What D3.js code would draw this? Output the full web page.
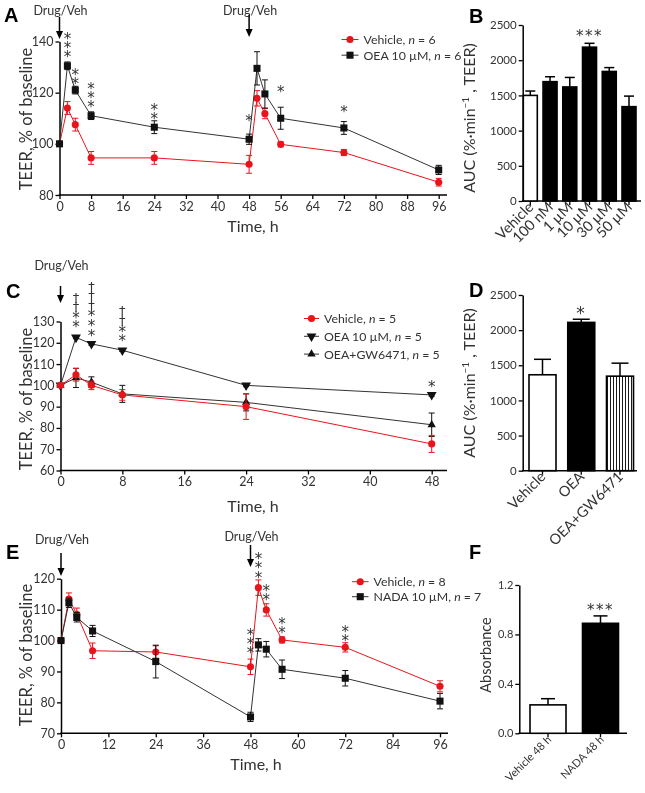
<!DOCTYPE html>
<html><head><meta charset="utf-8">
<script src="https://cdn.jsdelivr.net/npm/d3@7"></script>
<style>body{margin:0;background:#fff} svg{will-change:transform} svg text{font-family:Lato,'Open Sans',sans-serif}</style>
</head><body><script>
// ---------- DATA ----------
// Panel A
const timeA=[0,2,4,8,24,48,50,52,56,72,96];
const vehA=[100,114,107.5,94.5,94.5,92,117.8,111.8,99.8,96.6,85];
const vehAErr=[0,2.5,2.5,2.5,2.5,3.5,3,2,1,1.2,1.5];
const oeaA=[100,130.5,121,111,106.5,101.8,129.5,119.5,110,106.2,89.8];
const oeaAErr=[0,1.5,1.5,1.5,2.5,2,6.5,5.5,4.3,2.5,1.8];
const sigATime=[2,4,8,24,48,56,72];
const sigAMarks=["***","**","***","**","*","*","*"];
const sigALevel=[135.6,125,116,111.4,110.7,121.8,114];
const doseTimesA=[0,48];
const xTicksA=[0,8,16,24,32,40,48,56,64,72,80,88,96];
const yTicksA=[80,100,120,140];
// Panel B
const catsB=["Vehicle","100 nM","1 µM","10 µM","30 µM","50 µM"];
const aucB=[1500,1695,1620,2185,1840,1340];
const aucBErr=[62,70,135,55,55,150];
const sigB=["","","","***","",""];
const yTicksB=[0,500,1000,1500,2000,2500];
// Panel C
const timeC=[0,2,4,8,24,48];
const vehC=[100,105,100,95.5,90,72.5];
const vehCErr=[0,3,2,2.5,6,4];
const oeaC=[100,122.5,119.5,116.5,100,95.5];
const oeaCErr=[0,0.6,0.6,0.6,0.6,0.6];
const gwC=[100,103.5,101.5,96,92,81.5];
const gwCErr=[0,4.5,2.5,4,4,5.5];
const sigCTime=[2,4,8,48];
const sigCMarks=["††**","†††***","††**","*"];
const sigCLevel=[129.2,125.3,122.7,101.2];
const doseTimesC=[0];
const xTicksC=[0,8,16,24,32,40,48];
const yTicksC=[60,70,80,90,100,110,120,130];
// Panel D
const catsD=["Vehicle","OEA","OEA+GW6471"];
const aucD=[1365,2110,1345];
const aucDErr=[220,45,185];
const sigD=["","*",""];
const yTicksD=[0,500,1000,1500,2000,2500];
// Panel E
const timeE=[0,2,4,8,24,48,50,52,56,72,96];
const vehE=[100,113.4,108.5,96.7,96.3,91.5,117.1,109.9,100.2,97.8,85.2];
const vehEErr=[0,2,2,2.5,2,2.5,2.5,2,1,1.5,1.8];
const nadaE=[100,112.2,107.5,103.1,93.2,75.3,98.6,97.2,90.7,87.8,80.4];
const nadaEErr=[0,1.5,1.5,1.8,5.3,1.5,2,2.5,3,2.5,2.5];
const sigETime=[48,50,52,56,72];
const sigEMarks=["***","***","**","**","**"];
const sigELevel=[97.3,121.7,114.4,103.7,101.1];
const doseTimesE=[0,48];
const xTicksE=[0,12,24,36,48,60,72,84,96];
const yTicksE=[70,80,90,100,110,120];
// Panel F
const catsF=["Vehicle 48 h","NADA 48 h"];
const absF=[0.23,0.89];
const absFErr=[0.05,0.06];
const sigF=["","***"];
const yTicksF=[0,0.4,0.8,1.2];

// ---------- DRAWING ----------
const RED="#e8141c", BLK="#111", TXT="#333";
const SYMFONT="'DejaVu Sans', sans-serif";
const svg=d3.select("body").append("svg").attr("width",645).attr("height",793);
const defs=svg.append("defs");
const pat=defs.append("pattern").attr("id","stripes").attr("patternUnits","userSpaceOnUse").attr("width",3).attr("height",10);
pat.append("rect").attr("width",3).attr("height",10).attr("fill","#fff");
pat.append("line").attr("x1",1.5).attr("x2",1.5).attr("y1",0).attr("y2",10).attr("stroke","#000").attr("stroke-width",0.9);

const symMap={circle:[d3.symbolCircle,40],square:[d3.symbolSquare,50],down:[d3.symbolTriangle,42],up:[d3.symbolTriangle,30]};
function marker(g,type,x,y,color){
  const [s,size]=symMap[type];
  g.append("path").attr("d",d3.symbol(s,size)())
   .attr("transform",`translate(${x},${y})`+(type==="down"?" rotate(180)":""))
   .attr("fill",color);
}
function styleAxis(a,fs){
  a.selectAll(".domain").attr("stroke","#000").attr("stroke-width",1.5);
  a.selectAll(".tick line").attr("stroke","#000").attr("stroke-width",1.3);
  a.selectAll(".tick text").attr("fill",TXT).style("font-size",fs+"px");
}
function symOff(c,fs){return c==="*"?0.56*fs:0.3*fs;}
function symText(g,x,cy,s,fs,ls){
  g.append("text").attr("x",x).attr("y",cy+symOff(s[0],fs)).attr("text-anchor","middle")
    .style("font-family",SYMFONT).style("font-size",fs+"px").style("letter-spacing",(ls||0)+"px")
    .attr("fill",TXT).text(s);
}
// vertical column of identical marks as one vertical text
function column(g,x,cyMid,s,spacing,fs){
  const t=g.append("text").attr("x",x).attr("y",cyMid).attr("text-anchor","middle")
    .style("writing-mode","vertical-rl").style("text-orientation","upright")
    .style("font-family",SYMFONT).style("font-size",fs+"px").attr("fill",TXT).text(s);
  const adv=t.node().getComputedTextLength()/s.length;
  t.style("letter-spacing",(spacing-adv)+"px");
  return t;
}
function stackMarks(g,x,yBottom,marks,spacing,fs){
  const ch=[...marks]; const n=ch.length;
  let i=0;
  while(i<n){
    let j=i; while(j<n && ch[j]===ch[i]) j++;
    const run=ch.slice(i,j).join("");
    const cTop=yBottom-(n-1-i)*spacing, cBot=yBottom-(n-1-(j-1))*spacing;
    column(g,x,(cTop+cBot)/2,run,spacing,ch[i]==="*"?fs:fs-2);
    i=j;
  }
}
function legendText(t,label,n){
  t.append("tspan").text(label+", ");
  t.append("tspan").style("font-style","italic").text("n");
  t.append("tspan").text(" = "+n);
}
function panelLetter(x,y,l){
  svg.append("text").attr("x",x).attr("y",y).style("font-family","Arial, 'Liberation Sans', sans-serif")
   .style("font-weight","bold").style("font-size","20px").attr("fill","#000").text(l);
}
function yTitle(x,cy,fs,build){
  const t=svg.append("text").attr("transform",`translate(${x},${cy}) rotate(-90)`).attr("text-anchor","middle")
    .style("font-size",fs+"px").attr("fill",TXT);
  build(t);
}
function arrow(g,X,y1,y2){
  g.append("line").attr("x1",X).attr("x2",X).attr("y1",y1).attr("y2",y2-7).attr("stroke","#000").attr("stroke-width",1.5);
  g.append("path").attr("d",`M${X-3.5},${y2-8}L${X+3.5},${y2-8}L${X},${y2}Z`).attr("fill","#000");
}

function linePanel(o){
  const g=svg.append("g");
  const x=d3.scaleLinear().domain(o.xDomain).range(o.xRange);
  const y=d3.scaleLinear().domain(o.yDomain).range(o.yRange);
  const ya=g.append("g").attr("transform",`translate(${o.xRange[0]},0)`)
    .call(d3.axisLeft(y).tickValues(o.yTicks).tickSize(4).tickSizeOuter(0).tickPadding(2));
  styleAxis(ya,12.5);
  const xa=g.append("g").attr("transform",`translate(0,${o.yRange[0]})`)
    .call(d3.axisBottom(x).tickValues(o.xTicks).tickSize(4).tickSizeOuter(0).tickPadding(3));
  styleAxis(xa,12.5);
  xa.select(".domain").remove();
  g.append("line").attr("x1",o.xRange[0]-0.75).attr("x2",o.xEnd).attr("y1",o.yRange[0]).attr("y2",o.yRange[0])
    .attr("stroke","#000").attr("stroke-width",1.5);
  o.series.forEach(s=>{
    const pts=o.times.map((t,i)=>({t,v:s.vals[i],e:s.errs[i]}));
    g.append("path").datum(pts).attr("d",d3.line().x(d=>x(d.t)).y(d=>y(d.v)))
      .attr("fill","none").attr("stroke",s.lineColor).attr("stroke-width",1);
    pts.forEach(d=>{
      if(d.e>0){
        const X=x(d.t), y1=y(d.v-d.e), y2=y(d.v+d.e);
        g.append("line").attr("x1",X).attr("x2",X).attr("y1",y1).attr("y2",y2).attr("stroke",s.color).attr("stroke-width",1);
        [y1,y2].forEach(yy=>g.append("line").attr("x1",X-3).attr("x2",X+3).attr("y1",yy).attr("y2",yy).attr("stroke",s.color).attr("stroke-width",1));
      }
    });
    pts.forEach(d=>marker(g,s.marker,x(d.t),y(d.v),s.color));
  });
  o.sigTimes.forEach((t,i)=>stackMarks(g,x(t),y(o.sigLevels[i]),o.sigMarks[i],o.sigSpacing,15));
  o.doses.forEach((t,i)=>{
    const X=x(t);
    g.append("text").attr("x",X+1).attr("y",o.doseTextY[i]).attr("text-anchor","middle").style("font-size","12.5px").attr("fill",TXT).text("Drug/Veh");
    arrow(g,X,o.doseArrow[i][0],o.doseArrow[i][1]);
  });
  o.legend.forEach((l,i)=>{
    const ly=o.legendY+i*o.legendStep;
    g.append("line").attr("x1",o.legendX[0]).attr("x2",o.legendX[1]).attr("y1",ly).attr("y2",ly).attr("stroke",l.lineColor).attr("stroke-width",1);
    marker(g,l.marker,(o.legendX[0]+o.legendX[1])/2,ly,l.color);
    const t=g.append("text").attr("x",o.legendX[1]+5).attr("y",ly+4.5).style("font-size","12.3px").attr("fill",TXT);
    legendText(t,l.label,l.n);
  });
  g.append("text").attr("x",o.timeX).attr("y",o.timeY).attr("text-anchor","middle").style("font-size","16px").attr("fill",TXT).text("Time, h");
  yTitle(o.titleX,o.titleCY,16.5,t=>t.text("TEER, % of baseline"));
}

function barPanel(o){
  const g=svg.append("g");
  const x=d3.scalePoint().domain(o.cats).range(o.centers);
  const y=d3.scaleLinear().domain(o.yDomain).range(o.yRange);
  const ya=g.append("g").attr("transform",`translate(${o.axisX},0)`)
    .call(d3.axisLeft(y).tickValues(o.yTicks).tickSize(4).tickSizeOuter(0).tickPadding(2).tickFormat(o.fmt||(d=>d)));
  styleAxis(ya,o.tickFs);
  const y0=y(0);
  g.append("line").attr("x1",o.axisX-0.75).attr("x2",o.xEnd).attr("y1",y0).attr("y2",y0).attr("stroke","#000").attr("stroke-width",1.5);
  o.cats.forEach((c,i)=>{
    const cx=x(c), v=o.vals[i], e=o.errs[i];
    g.append("line").attr("x1",cx).attr("x2",cx).attr("y1",y0).attr("y2",y0+4).attr("stroke","#000").attr("stroke-width",1.3);
    g.append("line").attr("x1",cx).attr("x2",cx).attr("y1",y(v)).attr("y2",y(v+e)).attr("stroke","#000").attr("stroke-width",1.5);
    g.append("line").attr("x1",cx-o.cap/2).attr("x2",cx+o.cap/2).attr("y1",y(v+e)).attr("y2",y(v+e)).attr("stroke","#000").attr("stroke-width",1.5);
    g.append("rect").attr("x",cx-o.bw/2).attr("y",y(v)).attr("width",o.bw).attr("height",y0-y(v))
      .attr("fill",o.fills[i]).attr("stroke","#000").attr("stroke-width",1.6);
    if(o.sig[i]) symText(g,cx,y(v+e)-o.sigGap,o.sig[i],o.sigFs,1.5);
    g.append("text").attr("transform",`translate(${cx+4},${y0+o.labGap}) rotate(-45)`).attr("text-anchor","end")
      .style("font-size",o.labFs+"px").attr("fill",TXT).text(c);
  });
}

// Panel A
linePanel({
  xDomain:[0,96], xRange:[59.5,438.7], yDomain:[80,140], yRange:[195,41.5], xEnd:447,
  xTicks:xTicksA, yTicks:yTicksA, times:timeA,
  series:[
    {vals:vehA,errs:vehAErr,color:RED,lineColor:RED,marker:"circle"},
    {vals:oeaA,errs:oeaAErr,color:BLK,lineColor:"#333",marker:"square"}],
  sigTimes:sigATime, sigMarks:sigAMarks, sigLevels:sigALevel, sigSpacing:9.3,
  doses:doseTimesA, doseTextY:[15,15], doseArrow:[[17,39],[15,37]],
  legend:[{label:"Vehicle",n:6,color:RED,lineColor:RED,marker:"circle"},
          {label:"OEA 10 µM",n:6,color:BLK,lineColor:"#333",marker:"square"}],
  legendX:[341.5,358.5], legendY:39.5, legendStep:15.7,
  timeX:253, timeY:232, titleX:32, titleCY:119
});
// Panel C
linePanel({
  xDomain:[0,48], xRange:[60.5,431.7], yDomain:[60,130], yRange:[470.5,321.5], xEnd:447,
  xTicks:xTicksC, yTicks:yTicksC, times:timeC,
  series:[
    {vals:oeaC,errs:oeaCErr,color:BLK,lineColor:"#333",marker:"down"},
    {vals:gwC,errs:gwCErr,color:BLK,lineColor:"#333",marker:"up"},
    {vals:vehC,errs:vehCErr,color:RED,lineColor:RED,marker:"circle"}],
  sigTimes:sigCTime, sigMarks:sigCMarks, sigLevels:sigCLevel, sigSpacing:9.6,
  doses:doseTimesC, doseTextY:[270], doseArrow:[[286,303]],
  legend:[{label:"Vehicle",n:5,color:RED,lineColor:RED,marker:"circle"},
          {label:"OEA 10 µM",n:5,color:BLK,lineColor:"#333",marker:"down"},
          {label:"OEA+GW6471",n:5,color:BLK,lineColor:"#333",marker:"up"}],
  legendX:[304,319], legendY:318.5, legendStep:17.8,
  timeX:253, timeY:512, titleX:32, titleCY:399
});
// Panel E
linePanel({
  xDomain:[0,96], xRange:[61,440], yDomain:[70,120], yRange:[733.3,578.7], xEnd:448,
  xTicks:xTicksE, yTicks:yTicksE, times:timeE,
  series:[
    {vals:vehE,errs:vehEErr,color:RED,lineColor:RED,marker:"circle"},
    {vals:nadaE,errs:nadaEErr,color:BLK,lineColor:"#333",marker:"square"}],
  sigTimes:sigETime, sigMarks:sigEMarks, sigLevels:sigELevel, sigSpacing:9.3,
  doses:doseTimesE, doseTextY:[544,541], doseArrow:[[553,576],[545,567]],
  legend:[{label:"Vehicle",n:8,color:RED,lineColor:RED,marker:"circle"},
          {label:"NADA 10 µM",n:7,color:BLK,lineColor:"#333",marker:"square"}],
  legendX:[352,368.5], legendY:581.7, legendStep:15,
  timeX:256, timeY:770, titleX:32, titleCY:655
});
// Panel B
barPanel({cats:catsB, vals:aucB, errs:aucBErr, fills:["#fff","#000","#000","#000","#000","#000"], sig:sigB,
  centers:[530.3,629], bw:14, cap:10, axisX:522.7, xEnd:641, yDomain:[0,2500], yRange:[201,25], yTicks:yTicksB,
  tickFs:11.5, labFs:14.5, labGap:7, sigFs:15, sigGap:11});
// Panel D
barPanel({cats:catsD, vals:aucD, errs:aucDErr, fills:["#fff","#000","url(#stripes)"], sig:sigD,
  centers:[542.5,620], bw:27, cap:17, axisX:522.7, xEnd:637, yDomain:[0,2500], yRange:[470.7,295], yTicks:yTicksD,
  tickFs:11.5, labFs:14.5, labGap:7, sigFs:17, sigGap:10});
// Panel F
barPanel({cats:catsF, vals:absF, errs:absFErr, fills:["#fff","#000"], sig:sigF,
  centers:[548,600.5], bw:36, cap:14, axisX:519.3, xEnd:627, yDomain:[0,1.2], yRange:[733.3,585], yTicks:yTicksF,
  fmt:d3.format(".1f"), tickFs:11, labFs:11, labGap:7, sigFs:15, sigGap:9});

yTitle(475,118,16,t=>{t.append("tspan").text("AUC (%·min");t.append("tspan").attr("dy",-6).style("font-size","10px").text("−1");t.append("tspan").attr("dy",6).text(" , TEER)");});
yTitle(475,383,16,t=>{t.append("tspan").text("AUC (%·min");t.append("tspan").attr("dy",-6).style("font-size","10px").text("−1");t.append("tspan").attr("dy",6).text(" , TEER)");});
yTitle(491,655,14.5,t=>t.text("Absorbance"));

panelLetter(4,22,"A");
panelLetter(469,23,"B");
panelLetter(6,298,"C");
panelLetter(469,297,"D");
panelLetter(6,559,"E");
panelLetter(469,559,"F");
</script></body></html>
